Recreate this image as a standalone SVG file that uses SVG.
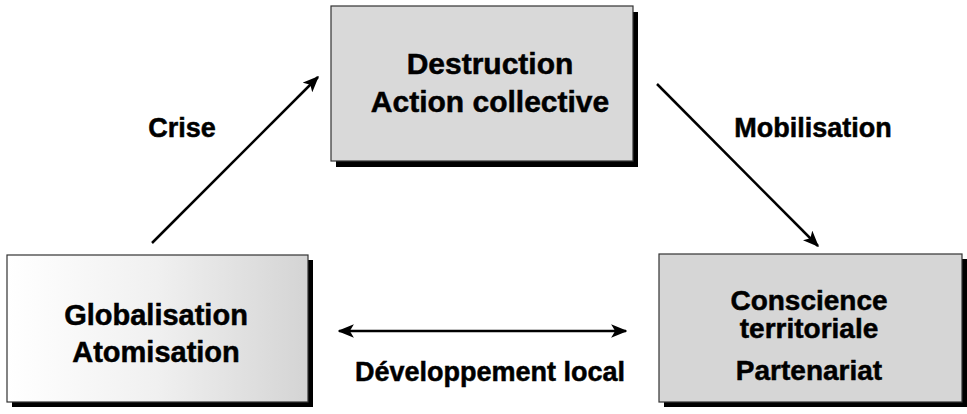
<svg xmlns="http://www.w3.org/2000/svg" width="967" height="414" viewBox="0 0 967 414">
<style>
.box{stroke:#333;stroke-width:1.2}
.shadow{fill:#000}
.t{font-family:"Liberation Sans",Arial,Helvetica,sans-serif;font-weight:bold;fill:#000;stroke:#000;stroke-width:0.5;text-anchor:middle}
.f30{font-size:30px}
.f29{font-size:29px}
.f28{font-size:28px}
.f27{font-size:27px}
.conn{stroke:#000;stroke-width:2.5;fill:none}
</style>
<defs>
<linearGradient id="gl" x1="0" y1="0" x2="1" y2="0">
<stop offset="0" stop-color="#ffffff"/>
<stop offset="0.5" stop-color="#f0f0f0"/>
<stop offset="1" stop-color="#d4d4d4"/>
</linearGradient>
<marker id="ah" viewBox="0 0 12 10" refX="11" refY="5" markerWidth="6.5" markerHeight="5.5" orient="auto-start-reverse" markerUnits="strokeWidth">
<path d="M0,0 L12,5 L0,10 L3,5 z" fill="#000"/>
</marker>
</defs>
<g id="node-destruction">
<rect class="shadow" x="336" y="12" width="302" height="155"/>
<rect class="box" x="331" y="6" width="302" height="155" fill="#d9d9d9"/>
<text class="t f30" x="490" y="74">Destruction</text>
<text class="t f30" x="490" y="112">Action collective</text>
</g>
<g id="node-globalisation">
<rect class="shadow" x="12" y="260" width="301" height="147"/>
<rect class="box" x="7" y="255" width="301" height="147" fill="url(#gl)"/>
<text class="t f29" x="156" y="325">Globalisation</text>
<text class="t f29" x="156" y="362">Atomisation</text>
</g>
<g id="node-conscience">
<rect class="shadow" x="664" y="259" width="303" height="148"/>
<rect class="box" x="659" y="254" width="303" height="148" fill="#d6d6d6"/>
<text class="t f28" x="809" y="310">Conscience</text>
<text class="t f28" x="809" y="338">territoriale</text>
<text class="t f28" x="809" y="380">Partenariat</text>
</g>
<g id="connectors">
<line class="conn" x1="152" y1="243" x2="318" y2="77" marker-end="url(#ah)"/>
<line class="conn" x1="657" y1="84" x2="818" y2="246" marker-end="url(#ah)"/>
<line class="conn" x1="339" y1="331" x2="626" y2="331" marker-start="url(#ah)" marker-end="url(#ah)"/>
</g>
<g id="labels">
<text class="t f27" x="182" y="137">Crise</text>
<text class="t f27" x="813" y="137">Mobilisation</text>
<text class="t f27" x="490" y="381">Développement local</text>
</g>
</svg>
